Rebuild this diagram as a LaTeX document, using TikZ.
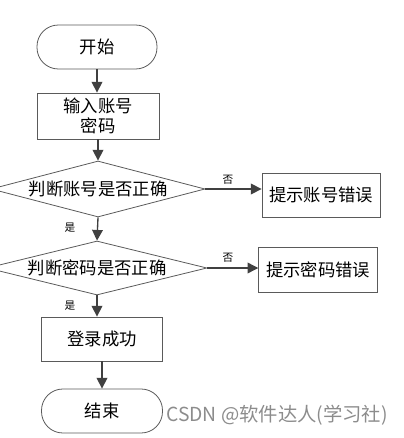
\documentclass[tikz,border=0pt]{standalone}
\usepackage{fontspec}
\newfontfamily\cjk{Noto Sans CJK SC}
\usetikzlibrary{shapes.geometric,arrows.meta}
\definecolor{linegray}{RGB}{64,64,64}
\definecolor{edgegray}{RGB}{90,90,90}
\definecolor{markgray}{RGB}{140,140,140}
\tikzset{
  boxstep/.style={draw=edgegray,line width=0.6pt,rectangle,inner sep=0pt,font=\cjk\fontsize{13}{15.5}\selectfont,align=center},
  termstep/.style={boxstep,rounded corners=16pt},
  askstep/.style={draw=edgegray,line width=0.6pt,diamond,inner sep=0pt,shape aspect=3.8,font=\cjk\fontsize{13}{15.5}\selectfont},
  flow/.style={draw=linegray,line width=1pt,-{Triangle[length=8pt,width=8pt]}},
  tag/.style={inner sep=0.75pt,font=\cjk\fontsize{8}{9}\selectfont}
}
\begin{document}
\begin{tikzpicture}[x=0.75pt,y=0.75pt,yscale=-1,xscale=1]
\useasboundingbox (0,0) rectangle (403,438);

%Shape: Terminal
\node [termstep,minimum width=90pt,minimum height=33pt] (start) at (97,47) {开始};
%Shape: Rectangle
\node [boxstep,minimum width=91.5pt,minimum height=34.5pt] (input) at (98,116) {输入账号\\密码};
%Shape: Diamond
\node [askstep,minimum width=160.5pt,minimum height=42pt] (askname) at (98,189) {判断账号是否正确};
%Shape: Rectangle
\node [boxstep,minimum width=88.5pt,minimum height=33pt] (nameerr) at (321,195) {提示账号错误};
%Shape: Diamond
\node [askstep,minimum width=165pt,minimum height=40.5pt] (askpass) at (97,268) {判断密码是否正确};
%Shape: Rectangle
\node [boxstep,minimum width=89pt,minimum height=33.75pt] (passerr) at (318,270) {提示密码错误};
%Shape: Rectangle
\node [boxstep,minimum width=90.75pt,minimum height=33pt] (login) at (102,339) {登录成功};
%Shape: Terminal
\node [termstep,minimum width=90.75pt,minimum height=33pt] (finish) at (102,411) {结束};

%Straight Lines
\draw [flow] (start.south) -- (start.south |- input.north);
\draw [flow] (input.south) -- (input.south |- askname.north);
\draw [flow] (askname.east) -- (askname.east -| nameerr.west);
\draw [flow] (askname.south) -- (askpass.north);
\draw [flow] (askpass.east) -- (askpass.east -| passerr.west);
\draw [flow] (askpass.south) -- (askpass.south |- login.north);
\draw [flow] (login.south) -- (finish.north);

% Text Node
\node [tag] (no1) at (228,180) {否};
% Text Node
\node [tag] (yes1) at (70,228) {是};
% Text Node
\node [tag] (no2) at (228,258) {否};
% Text Node
\node [tag] (yes2) at (70,306) {是};
% Text Node
\node [inner sep=0pt,text=markgray,font=\cjk\fontsize{14.5}{17}\selectfont] (mark) at (277,415) {CSDN @软件达人(学习社)};

\end{tikzpicture}
\end{document}
